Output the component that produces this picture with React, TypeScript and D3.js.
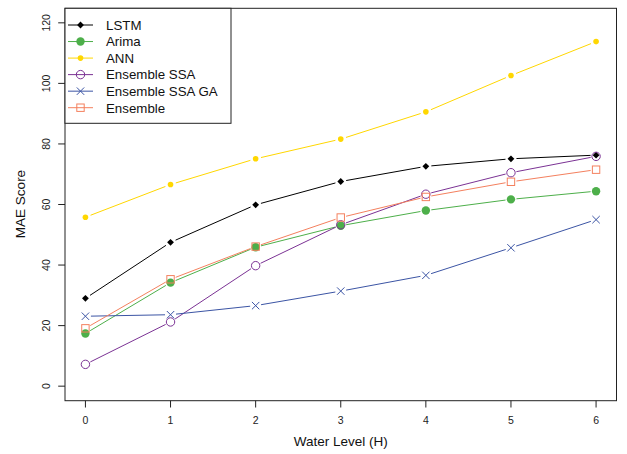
import React from 'react';
import * as d3 from 'd3';

const levels = [0, 1, 2, 3, 4, 5, 6];
const lstm = [29.0, 47.5, 59.9, 67.6, 72.6, 75.1, 76.3];
const arima = [17.4, 34.2, 45.9, 53.0, 58.0, 61.7, 64.4];
const ann = [55.8, 66.6, 75.1, 81.6, 90.6, 102.6, 113.8];
const ensSsa = [7.2, 21.2, 39.8, 53.3, 63.4, 70.5, 75.9];
const ensSsaGa = [23.1, 23.6, 26.6, 31.4, 36.6, 45.7, 55.0];
const ensemble = [19.1, 35.3, 46.1, 55.7, 62.5, 67.5, 71.5];
const yTicks = [0, 20, 40, 60, 80, 100, 120];

const series = [
  { name: 'LSTM', values: lstm, color: '#000000', shape: 'diamond' },
  { name: 'Arima', values: arima, color: '#4DAF4A', shape: 'bigdot' },
  { name: 'ANN', values: ann, color: '#FFD700', shape: 'dot' },
  { name: 'Ensemble SSA', values: ensSsa, color: '#7B3294', shape: 'circle' },
  { name: 'Ensemble SSA GA', values: ensSsaGa, color: '#3B54A4', shape: 'cross' },
  { name: 'Ensemble', values: ensemble, color: '#F4805E', shape: 'square' },
];

const W = 627;
const H = 454;
const FONT = '"Liberation Sans", Arial, Helvetica, sans-serif';

function Marker({ shape, x, y, color }: { shape: string; x: number; y: number; color: string }) {
  if (shape === 'diamond') {
    const s = 3.4;
    return <path d={`M${x},${y - s}L${x + s},${y}L${x},${y + s}L${x - s},${y}Z`} fill={color} />;
  }
  if (shape === 'bigdot') return <circle cx={x} cy={y} r={4.2} fill={color} />;
  if (shape === 'dot') return <circle cx={x} cy={y} r={2.8} fill={color} />;
  if (shape === 'circle')
    return <circle cx={x} cy={y} r={4.2} fill="none" stroke={color} strokeWidth={1} />;
  if (shape === 'cross') {
    const s = 3.7;
    return (
      <path
        d={`M${x - s},${y - s}L${x + s},${y + s}M${x - s},${y + s}L${x + s},${y - s}`}
        stroke={color}
        strokeWidth={1}
      />
    );
  }
  const s = 3.7;
  return <rect x={x - s} y={y - s} width={2 * s} height={2 * s} fill="none" stroke={color} strokeWidth={1} />;
}

export default function App() {
  const x = d3.scaleLinear().domain([-0.24, 6.24]).range([65, 616.5]);
  const y = d3.scaleLinear().domain([-4.8, 124.8]).range([400.7, 8.3]);
  const gap = 5.5;

  // segments with gaps around points (like R type = "b")
  const segs = (vals: number[]) => {
    const out: string[] = [];
    for (let i = 0; i < vals.length - 1; i++) {
      const x1 = x(levels[i]), y1 = y(vals[i]);
      const x2 = x(levels[i + 1]), y2 = y(vals[i + 1]);
      const len = Math.hypot(x2 - x1, y2 - y1);
      if (len <= 2 * gap) continue;
      const ux = (x2 - x1) / len, uy = (y2 - y1) / len;
      out.push(`M${x1 + ux * gap},${y1 + uy * gap}L${x2 - ux * gap},${y2 - uy * gap}`);
    }
    return out.join('');
  };

  const legY = d3.scaleLinear().domain([0, 5]).range([25, 107.7]);

  return (
    <svg width={W} height={H} style={{ position: 'absolute', left: 0, top: 0 }} fontFamily={FONT}>
      <rect width={W} height={H} fill="#fff" />
      {series.map((s) => (
        <g key={s.name}>
          <path d={segs(s.values)} fill="none" stroke={s.color} strokeWidth={1} />
          {s.values.map((v, i) => (
            <Marker key={i} shape={s.shape} x={x(levels[i])} y={y(v)} color={s.color} />
          ))}
        </g>
      ))}
      <rect x={65} y={8.3} width={551.5} height={392.4} fill="none" stroke="#222" strokeWidth={1} />
      {levels.map((t) => (
        <g key={t}>
          <line x1={x(t)} x2={x(t)} y1={400.7} y2={407.5} stroke="#222" />
          <text x={x(t)} y={424} fontSize={10.5} textAnchor="middle" fill="#222">
            {t}
          </text>
        </g>
      ))}
      {yTicks.map((t) => (
        <g key={t}>
          <line x1={58.2} x2={65} y1={y(t)} y2={y(t)} stroke="#222" />
          <text
            transform={`translate(49.8,${y(t)}) rotate(-90)`}
            fontSize={10.5}
            textAnchor="middle"
            fill="#222"
          >
            {t}
          </text>
        </g>
      ))}
      <text x={340.8} y={446} fontSize={13.5} textAnchor="middle" fill="#111">
        Water Level (H)
      </text>
      <text transform="translate(25,204) rotate(-90)" fontSize={13.5} textAnchor="middle" fill="#111">
        MAE Score
      </text>
      <rect x={65} y={8.3} width={166} height={115} fill="#fff" stroke="#222" strokeWidth={1} />
      {series.map((s, i) => (
        <g key={s.name}>
          <line x1={68} x2={93} y1={legY(i)} y2={legY(i)} stroke={s.color} strokeWidth={1} />
          <Marker shape={s.shape} x={80.5} y={legY(i)} color={s.color} />
          <text x={106} y={legY(i) + 4.8} fontSize={13.3} fill="#111">
            {s.name}
          </text>
        </g>
      ))}
    </svg>
  );
}
